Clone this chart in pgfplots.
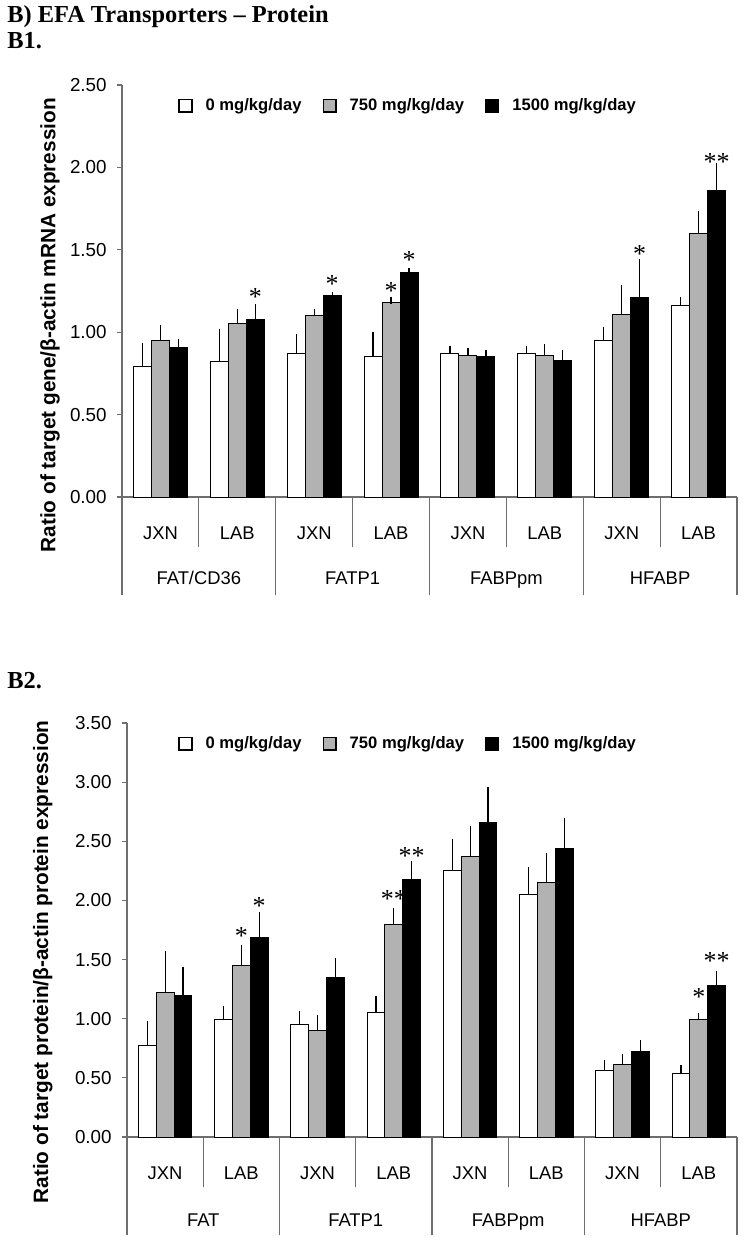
\documentclass[border=0pt]{standalone}
\usepackage{fontspec}
\setmainfont{Liberation Sans}
\newfontfamily\serifb{Liberation Serif}
\usepackage{pgfplots}
\usepackage{pgfplotstable}
\pgfplotsset{compat=1.18}
\definecolor{bargray}{RGB}{178,178,178}
\definecolor{axgray}{RGB}{110,110,110}
\newcommand\starfont{\serifb\fontsize{13}{13}\selectfont}

% ---- B1 data: category index, mean, upper error ----
\pgfplotstableread{
c y e
0 0.79 0.125
1 0.82 0.18
2 0.87 0.10
3 0.85 0.13
4 0.87 0.025
5 0.87 0.025
6 0.95 0.06
7 1.16 0.03
}\Aw
\pgfplotstableread{
c y e
0 0.95 0.075
1 1.05 0.07
2 1.10 0.02
3 1.18 0.01
4 0.86 0.02
5 0.86 0.045
6 1.11 0.155
7 1.60 0.115
}\Ag
\pgfplotstableread{
c y e
0 0.91 0.03
1 1.08 0.07
2 1.22 0.0
3 1.36 0.008
4 0.85 0.02
5 0.83 0.04
6 1.21 0.21
7 1.86 0.145
}\Ab
\pgfplotstableread{
x y lab
1.734 1.242 *
2.734 1.317 *
3.5 1.277 *
3.734 1.463 *
6.734 1.499 *
7.734 2.061 **
}\As
% ---- B2 data ----
\pgfplotstableread{
c y e
0 0.77 0.18
1 0.99 0.09
2 0.95 0.09
3 1.05 0.11
4 2.25 0.24
5 2.05 0.20
6 0.56 0.06
7 0.54 0.04
}\Bw
\pgfplotstableread{
c y e
0 1.22 0.32
1 1.45 0.14
2 0.90 0.10
3 1.80 0.11
4 2.37 0.23
5 2.15 0.22
6 0.61 0.06
7 0.99 0.03
}\Bg
\pgfplotstableread{
c y e
0 1.20 0.21
1 1.69 0.18
2 1.35 0.13
3 2.18 0.12
4 2.66 0.27
5 2.44 0.23
6 0.72 0.07
7 1.28 0.09
}\Bb
\pgfplotstableread{
x y lab
1.5 1.741 *
1.734 1.995 *
3.5 2.051 **
3.734 2.418 **
7.5 1.219 *
7.734 1.529 **
}\Bs

\pgfplotsset{
  panel/.style={
    scale only axis, anchor=south west, clip=false,
    xmin=0, xmax=8, ymin=0,
    axis x line=bottom, axis y line=left,
    axis line style={-, draw=axgray, line width=0.6pt},
    tick align=outside, major tick length=2.5pt,
    every tick/.style={draw=axgray, line width=0.6pt},
    /pgf/number format/assume math mode=true,
    yticklabel style={/pgf/number format/fixed, /pgf/number format/fixed zerofill,
      /pgf/number format/precision=2, font=\fontsize{9.4}{11}\selectfont,
      anchor=east, inner sep=0pt, xshift=-5pt},
    xtick={0.5,1.5,...,7.5},
    xticklabels={JXN,LAB,JXN,LAB,JXN,LAB,JXN,LAB},
    xticklabel style={font=\fontsize{9.2}{11}\selectfont, anchor=center, yshift=-15.3pt,
      text height=6.6pt, text depth=0pt},
    major x tick style={draw=none},
    minor xtick={0,2,4,6,8},
    minor tick length=49pt,
    extra x ticks={1,3,5,7},
    extra x tick style={major tick length=25pt, major x tick style={draw=axgray, line width=0.6pt},
      xticklabel style={yshift=-0.2pt}},
    ylabel style={anchor=center, font=\bfseries\fontsize{10.4}{12}\selectfont},
    legend columns=3,
    legend style={draw=none, fill=none, inner sep=0pt, anchor=west,
      font=\bfseries\fontsize{8.3}{10}\selectfont,
      nodes={inner sep=0pt},
      /tikz/every odd column/.append style={column sep=6.5pt},
      /tikz/every even column/.append style={column sep=10.5pt}},
    legend image code/.code={\draw[##1, line width=0.7pt] (0pt,-3.2pt) rectangle (6.4pt,3.2pt);},
  },
  barW/.style={ybar, bar width=0.234, bar shift=0pt, draw=black, line width=0.5pt,
    error bars/y dir=plus, error bars/y explicit,
    error bars/error bar style={line width=0.6pt, draw=black},
    error bars/error mark options={line width=0.6pt, mark size=1.75pt, draw=black}},
  stars/.style={draw=none, mark=none, forget plot, nodes near coords, point meta=explicit symbolic,
    every node near coord/.append style={anchor=base, inner sep=0pt, yshift=-6.5pt, font=\starfont}},
}

\begin{document}
\begin{tikzpicture}
\useasboundingbox (0,0) rectangle (375pt,-624.5pt);
\node[anchor=base west, inner sep=0pt, font=\serifb\bfseries\fontsize{12.2}{14}\selectfont] at (3.5pt,-11pt) {B) EFA Transporters – Protein};
\node[anchor=base west, inner sep=0pt, font=\serifb\bfseries\fontsize{12.2}{14}\selectfont] at (3.5pt,-24pt) {B1.};
\node[anchor=base west, inner sep=0pt, font=\serifb\bfseries\fontsize{12.2}{14}\selectfont] at (3.5pt,-344pt) {B2.};

\begin{axis}[panel, at={(61pt,-248.5pt)}, width=307.5pt, height=206pt, ymax=2.5,
  ytick={0,0.5,...,2.5},
  extra x tick labels={FAT/CD36,FATP1,FABPpm,HFABP},
  ylabel={Ratio of target gene/β-actin mRNA expression},
  ylabel style={at={(axis description cs:-0.117,0.417)}},
  legend style={at={(axis description cs:0.091,0.950)}}]
\addplot[barW, fill=white] table[x expr=\thisrow{c}+0.266, y=y, y error=e] {\Aw};
\addplot[barW, fill=bargray] table[x expr=\thisrow{c}+0.5, y=y, y error=e] {\Ag};
\addplot[barW, fill=black] table[x expr=\thisrow{c}+0.734, y=y, y error=e] {\Ab};
\addplot[stars] table[x=x, y=y, meta=lab] {\As};
\legend{0 mg/kg/day, 750 mg/kg/day, 1500 mg/kg/day}
\end{axis}

\begin{axis}[panel, at={(63.5pt,-568.5pt)}, width=305pt, height=207pt, ymax=3.5,
  ytick={0,0.5,...,3.5},
  extra x tick labels={FAT,FATP1,FABPpm,HFABP},
  extra x tick style={xticklabel style={yshift=-1pt}},
  ylabel={Ratio of target protein/β-actin protein expression},
  ylabel style={at={(axis description cs:-0.138,0.423)}},
  legend style={at={(axis description cs:0.0836,0.950)}}]
\addplot[barW, fill=white] table[x expr=\thisrow{c}+0.266, y=y, y error=e] {\Bw};
\addplot[barW, fill=bargray] table[x expr=\thisrow{c}+0.5, y=y, y error=e] {\Bg};
\addplot[barW, fill=black] table[x expr=\thisrow{c}+0.734, y=y, y error=e] {\Bb};
\addplot[stars] table[x=x, y=y, meta=lab] {\Bs};
\legend{0 mg/kg/day, 750 mg/kg/day, 1500 mg/kg/day}
\end{axis}
\end{tikzpicture}
\end{document}
